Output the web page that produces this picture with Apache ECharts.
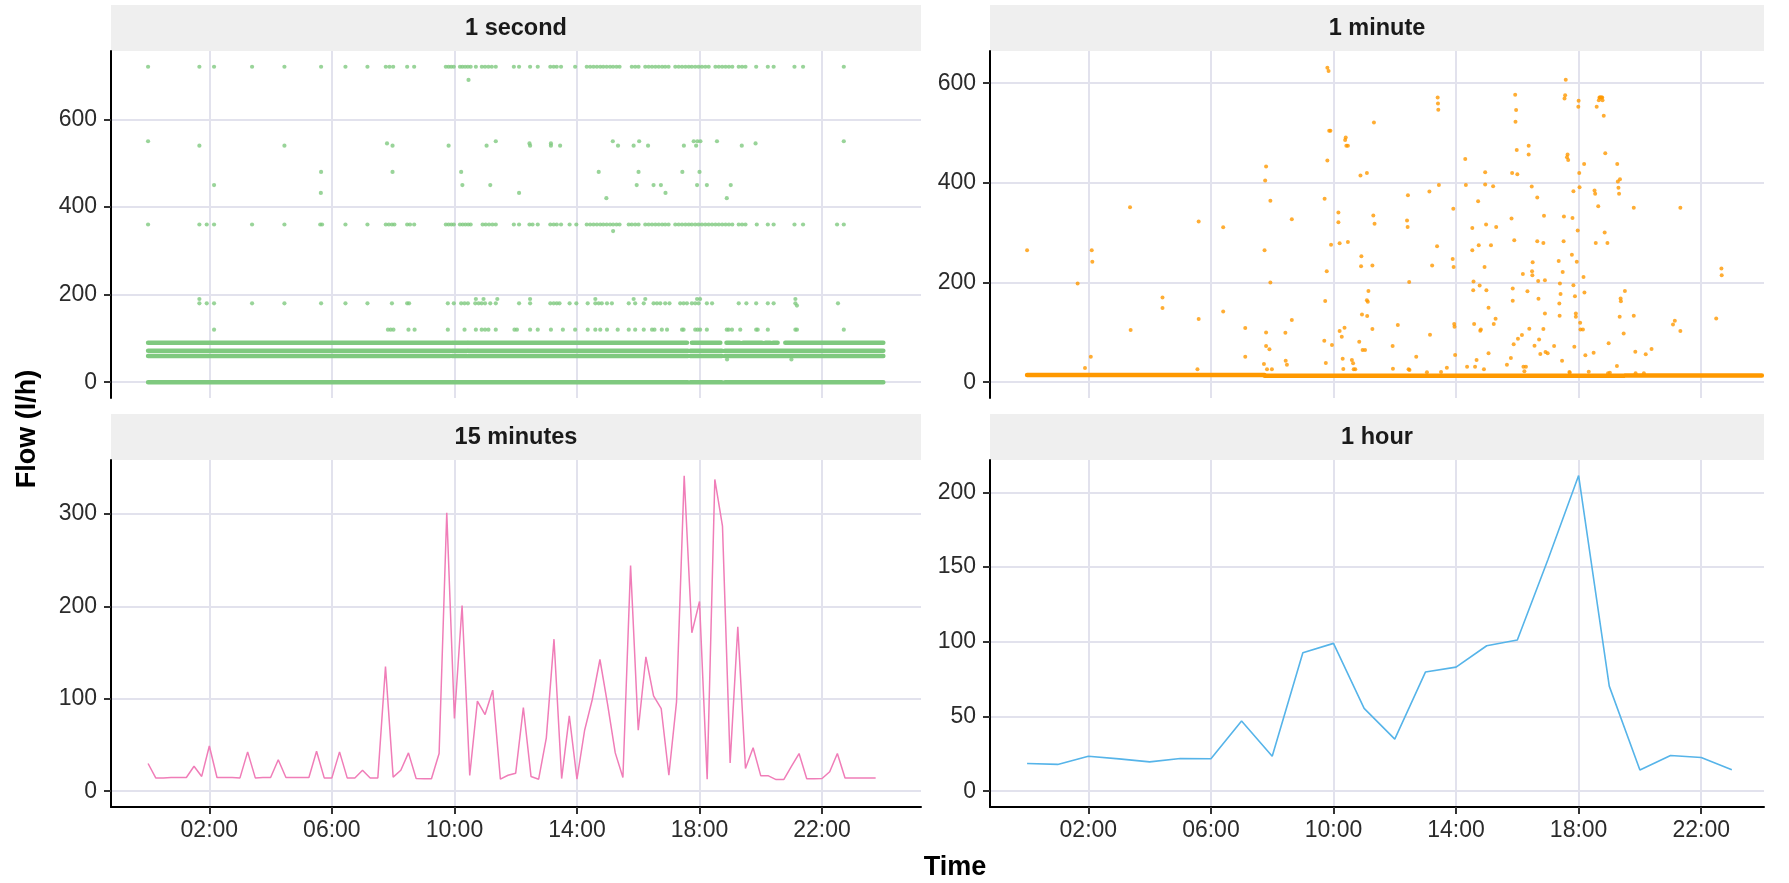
<!DOCTYPE html>
<html><head><meta charset="utf-8">
<script src="https://cdn.jsdelivr.net/npm/echarts@6/dist/echarts.min.js"></script>
<style>html,body{margin:0;padding:0;background:#fff}#c{width:1789px;height:883px}</style>
</head><body><div id="c"></div>
<script>
// ---------- tick labels / categories ----------
const panelTitles = ['1 second', '1 minute', '15 minutes', '1 hour'];
const xTickHours = [2, 6, 10, 14, 18, 22];
const yTicksSec = [0, 200, 400, 600];
const yTicksMin = [0, 200, 400, 600];
const yTicks15 = [0, 100, 200, 300];
const yTicksHour = [0, 50, 100, 150, 200];

// ---------- 1 second : sparse dots (hour of day) per flow level ----------
const sec720 = [0, 1.675, 2.154, 3.395, 4.451, 5.648, 6.443, 7.161, 7.76, 7.88, 8.0, 8.457, 8.686, 9.72, 9.81, 9.894, 9.98, 10.18, 10.26, 10.35, 10.44, 10.53, 10.70, 10.895, 11.0, 11.11, 11.22, 11.35, 11.94, 12.11, 12.47, 12.72, 13.13, 13.24, 13.34, 13.48, 13.94, 14.32, 14.43, 14.54, 14.65, 14.76, 14.86, 14.97, 15.08, 15.18, 15.29, 15.39, 15.79, 15.90, 16.01, 16.23, 16.34, 16.45, 16.56, 16.67, 16.78, 16.88, 16.99, 17.21, 17.32, 17.43, 17.54, 17.65, 17.75, 17.86, 17.97, 18.08, 18.19, 18.30, 18.52, 18.63, 18.74, 18.85, 18.96, 19.07, 19.28, 19.39, 19.50, 19.85, 20.23, 20.42, 21.10, 21.38, 22.71];
const sec690 = [10.46];
const sec550 = [0, 11.35, 15.17, 16.03, 17.81, 17.93, 18.03, 18.57, 22.71];
const sec545 = [7.80, 12.45, 13.15, 19.83];
const sec540 = [1.675, 4.451, 7.98, 9.81, 11.05, 12.47, 13.15, 13.45, 15.34, 15.85, 16.32, 17.49, 17.89, 19.38];
const sec480 = [5.648, 7.98, 10.22, 14.71, 16.01, 17.44, 18.00];
const sec450 = [2.154, 10.26, 11.17, 15.95, 16.50, 16.74, 17.92, 18.24, 19.02];
const sec432 = [5.64, 12.11, 16.89];
const sec420 = [14.96, 18.89];
const sec360 = [0, 1.675, 1.915, 2.154, 3.395, 4.451, 5.62, 5.68, 6.443, 7.161, 7.76, 7.86, 7.96, 8.04, 8.457, 8.55, 8.686, 9.72, 9.81, 9.90, 9.98, 10.18, 10.27, 10.36, 10.45, 10.53, 10.92, 11.02, 11.13, 11.24, 11.35, 11.94, 12.11, 12.45, 12.55, 12.72, 13.13, 13.24, 13.34, 13.48, 13.76, 13.98, 14.32, 14.43, 14.54, 14.65, 14.76, 14.86, 14.97, 15.08, 15.18, 15.29, 15.39, 15.69, 15.79, 15.90, 16.01, 16.23, 16.34, 16.45, 16.56, 16.67, 16.78, 16.88, 16.99, 17.21, 17.32, 17.43, 17.54, 17.65, 17.75, 17.86, 17.97, 18.08, 18.19, 18.30, 18.41, 18.52, 18.63, 18.74, 18.85, 18.96, 19.07, 19.28, 19.39, 19.50, 19.87, 20.23, 20.42, 21.10, 21.38, 22.49, 22.71];
const sec345 = [15.18];
const sec190 = [1.675, 10.70, 10.95, 11.4, 12.47, 14.60, 15.85, 16.23, 17.92, 18.02, 21.13];
const sec180 = [1.675, 1.915, 2.154, 3.395, 4.451, 5.648, 6.443, 7.161, 7.96, 8.457, 8.52, 9.785, 9.98, 10.22, 10.33, 10.44, 10.68, 10.79, 10.89, 11.0, 11.17, 11.35, 12.11, 12.47, 13.13, 13.24, 13.34, 13.43, 13.76, 13.98, 14.35, 14.60, 14.71, 14.81, 14.98, 15.14, 15.69, 15.90, 16.18, 16.50, 16.61, 16.72, 16.88, 17.02, 17.37, 17.48, 17.59, 17.75, 17.86, 17.97, 18.24, 18.41, 19.28, 19.53, 19.85, 20.23, 20.42, 21.13, 22.52];
const sec175 = [21.18];
const sec120 = [2.154, 7.83, 7.92, 8.01, 8.50, 8.70, 9.785, 10.33, 10.70, 10.89, 11.0, 11.11, 11.35, 11.96, 12.04, 12.47, 12.72, 13.15, 13.54, 13.94, 14.35, 14.60, 14.76, 14.98, 15.33, 15.69, 15.90, 16.18, 16.45, 16.53, 16.77, 16.94, 17.43, 17.48, 17.86, 17.94, 18.02, 18.24, 18.89, 18.95, 19.06, 19.33, 19.85, 19.90, 20.23, 21.13, 21.18, 22.71];
const sec52 = [18.9, 21.0];

// ---------- 1 second : continuous bands (start hour, end hour) ----------
const band0 = [[0, 9.86], [9.92, 10.41], [10.46, 17.62], [17.70, 18.73], [18.83, 24.0]];
const band60 = [[0, 9.86], [9.92, 10.41], [10.46, 17.62], [17.70, 18.73], [18.83, 24.0]];
const band72 = [[0, 9.86], [9.92, 10.41], [10.46, 17.62], [17.70, 18.73], [18.83, 24.0]];
const band90 = [[0, 9.86], [9.92, 10.41], [10.46, 17.59], [17.75, 18.68], [18.88, 19.31], [19.42, 20.04], [20.15, 20.31], [20.40, 20.55], [20.80, 24.0]];

// ---------- 1 minute : scattered readings [hour, flow] ----------
const minPoints = [
 [0, 264.7], [1.65, 198], [1.89, 28.7], [2.08, 51.3], [2.11, 264.7], [2.13, 242], [3.36, 351], [3.38, 104.7], [4.42, 170], [4.42, 149],
 [5.56, 26], [5.60, 322.7], [5.60, 127], [6.40, 311], [6.40, 142], [7.12, 108.7], [7.12, 51], [7.73, 36.7], [7.75, 264.7], [7.77, 404.7],
 [7.80, 432.7], [7.80, 100], [7.80, 72.7], [7.83, 26], [7.91, 66], [7.94, 364], [7.94, 200], [7.99, 26], [8.43, 99.3], [8.44, 43],
 [8.48, 35], [8.64, 327], [8.64, 124.7], [9.70, 83.3], [9.71, 368], [9.73, 163], [9.75, 38.7], [9.78, 222.7], [9.80, 444.7], [9.80, 631],
 [9.84, 624.7], [9.86, 504.7], [9.90, 504.7], [9.92, 276], [9.95, 74.7], [10.16, 340.7], [10.16, 321], [10.20, 278.7], [10.20, 102.7], [10.27, 91.3],
 [10.30, 47.3], [10.32, 26.7], [10.36, 109.3], [10.38, 486], [10.40, 491], [10.42, 474.7], [10.47, 474.7], [10.47, 281.3], [10.60, 44.7], [10.64, 38],
 [10.66, 26], [10.71, 26], [10.84, 81.3], [10.88, 414.7], [10.90, 232.7], [10.91, 252.7], [10.93, 136], [10.95, 64.7], [11.03, 64.7], [11.09, 420],
 [11.09, 164.7], [11.10, 132.7], [11.12, 161.3], [11.14, 183.3], [11.27, 106.7], [11.27, 234], [11.30, 334.7], [11.32, 521.3], [11.34, 318],
 [11.93, 72.7], [11.94, 27], [12.10, 114.7], [12.40, 324.7], [12.42, 311.3], [12.43, 375.3], [12.45, 26], [12.48, 24.7], [12.47, 201.3], [12.70, 51.3],
 [13.13, 382.7], [13.15, 95.3], [13.22, 234], [13.38, 272.7], [13.40, 571.3], [13.41, 559.3], [13.42, 546.7], [13.44, 396], [13.51, 20.7], [13.70, 29.3],
 [13.89, 247.3], [13.91, 348], [13.92, 231.3], [13.94, 116.7], [13.95, 111.3], [13.97, 54.7], [14.30, 448], [14.32, 396], [14.36, 31.3], [14.53, 309.3],
 [14.53, 264.7], [14.57, 202], [14.56, 184.7], [14.59, 116.7], [14.62, 31.3], [14.67, 44.7], [14.72, 363.3], [14.74, 274.7], [14.77, 194], [14.79, 103.3],
 [14.81, 106], [14.91, 26], [14.93, 231.3], [14.95, 421.3], [14.95, 396.7], [14.98, 316.7], [14.99, 184.7], [15.06, 149.3], [15.06, 58], [15.14, 274.7],
 [15.21, 393.3], [15.23, 116.7], [15.29, 127.3], [15.31, 311.3], [15.66, 35.3], [15.79, 48.7], [15.81, 328.7], [15.83, 420], [15.85, 163.3], [15.85, 188],
 [15.88, 76], [15.90, 284.7], [15.93, 576.7], [15.96, 546], [15.94, 522.7], [15.98, 466], [16.00, 417.3], [16.02, 87.3], [16.15, 94.7], [16.18, 217.3],
 [16.20, 31.3], [16.28, 31.3], [16.33, 182.7], [16.37, 456.7], [16.37, 474.7], [16.39, 107.3], [16.47, 392.7], [16.49, 214.7], [16.48, 222.7], [16.50, 240.7],
 [16.56, 73.3], [16.65, 370.7], [16.65, 282.7], [16.68, 203.3], [16.69, 167.3], [16.71, 86], [16.75, 56.7], [16.85, 279.3], [16.85, 106.7], [16.87, 334],
 [16.90, 204.7], [16.90, 138], [16.92, 60.7], [16.99, 58], [17.20, 72.7], [17.35, 243.3], [17.37, 158], [17.38, 133.3], [17.39, 198], [17.41, 177.3],
 [17.46, 43.3], [17.48, 221.3], [17.51, 282.7], [17.52, 332.7], [17.54, 569.3], [17.56, 576], [17.58, 606.7], [17.62, 451.3], [17.64, 456.7], [17.66, 446],
 [17.70, 20.7], [17.78, 256], [17.80, 329.3], [17.83, 383.3], [17.83, 194.7], [17.86, 71.3], [17.88, 172.7], [17.91, 138], [17.91, 131.3], [17.94, 242],
 [17.97, 304.7], [17.99, 552.7], [18.00, 564.7], [18.02, 420], [18.03, 391.3], [18.05, 119.3], [18.06, 106], [18.14, 106], [18.16, 211.3], [18.18, 438],
 [18.19, 180], [18.22, 54], [18.33, 21.3], [18.49, 59.3], [18.52, 384.7], [18.54, 378], [18.56, 279.3], [18.59, 552.7], [18.64, 353.3], [18.66, 566],
 [18.68, 571.3], [18.70, 571.3], [18.72, 571.3], [18.75, 571.3], [18.77, 571.3], [18.78, 566], [18.82, 534.7], [18.85, 300.7], [18.87, 459.3], [18.94, 279.3],
 [18.98, 78], [19.25, 32.7], [19.26, 438], [19.28, 402.7], [19.30, 390], [19.32, 378], [19.35, 407.3], [19.37, 168], [19.38, 162.7], [19.34, 131.3],
 [19.51, 183.3], [19.47, 98], [19.80, 350], [19.80, 133.3], [19.85, 61.3], [20.19, 56], [20.38, 66.7], [21.08, 116], [21.14, 123.3], [21.32, 350],
 [21.32, 102.7], [22.49, 128], [22.66, 228], [22.67, 214.7],
 [13.05, 20], [16.23, 22], [17.71, 19], [18.96, 18], [19.02, 19], [19.86, 18], [20.13, 18]
];
// ---------- 1 minute : dense base band [start hour, end hour, flow] ----------
const minBase = [[0, 7.75, 14.7], [7.75, 19.5, 12.8], [19.5, 23.98, 13.6]];

// ---------- 15 minutes : values from 00:00, every quarter hour ----------
const q15 = [30, 14.4, 14.4, 14.8, 14.8, 14.8, 27, 16, 49, 14.8,
 14.8, 14.8, 14.4, 42.6, 14.4, 14.8, 14.8, 34, 14.8, 14.8,
 14.8, 14.8, 43.3, 14.4, 14.4, 42.6, 14.4, 14.4, 22.7, 14.4,
 14.4, 135, 15.2, 22.7, 41.5, 13.7, 13.4, 13.4, 40.8, 301.4,
 78.7, 201, 17, 97.5, 83, 109.4, 13, 17.3, 19.5, 90.6,
 16, 13, 57.8, 164.6, 13.7, 81.6, 13, 66, 99.3, 142.6,
 93.9, 41.5, 14.8, 244.4, 66, 145.5, 103.2, 89.5, 17.3, 96.8,
 341.5, 171.5, 205.4, 13, 337.5, 287, 30.7, 178, 24.5, 47,
 16.6, 16.6, 12.6, 12.6, 27, 40.8, 13.4, 13.4, 13.7, 21,
 40.8, 14.4, 14.4, 14.4, 14.4, 14.4];

// ---------- 1 hour : values from 00:00, hourly ----------
const hourly = [18.5, 17.9, 23.4, 21.6, 19.6, 21.9, 21.7, 46.9, 23.4, 92.6,
 98.9, 55.4, 34.8, 79.7, 83.0, 97.3, 101.1, 155, 211.2, 70.3,
 14.1, 23.9, 22.5, 14.3];

// ---------- styling ----------
const FONT = '"Liberation Sans", Arial, Helvetica, sans-serif';
const GRID_COL = '#E2E2ED';
const TXT = '#2b2b2b';
const C_GREEN = '#7FC97F', C_ORANGE = '#FF9900', C_PINK = '#F07DB8', C_BLUE = '#56B4E9';

const grids = [
  {left: 111, top: 51, width: 810, height: 347},
  {left: 990, top: 51, width: 774, height: 347},
  {left: 111, top: 460, width: 810, height: 347},
  {left: 990, top: 460, width: 774, height: 347}
];
const xRanges = [[-1.21, 25.23], [-1.21, 24.05], [-1.21, 25.23], [-1.21, 24.05]];
const yRanges = [[-36, 756], [-31.6, 664.6], [-17.1, 358.6], [-10.6, 221.6]];
const yTickSets = [yTicksSec, yTicksMin, yTicks15, yTicksHour];

function pad(h) { return (h < 10 ? '0' : '') + h + ':00'; }

const xAxes = grids.map((g, i) => {
  const bottom = i >= 2;
  return {
    type: 'value', gridIndex: i, min: xRanges[i][0], max: xRanges[i][1],
    axisLine: {show: bottom, onZero: false, lineStyle: {color: '#000', width: 2}},
    axisTick: {show: bottom, customValues: xTickHours, length: 7, lineStyle: {color: '#333', width: 2}},
    axisLabel: {show: bottom, customValues: xTickHours, formatter: v => pad(v), fontSize: 23, color: TXT, margin: 12, fontFamily: FONT},
    splitLine: {show: true, lineStyle: {color: GRID_COL, width: 2}}
  };
});
const yAxes = grids.map((g, i) => ({
  type: 'value', gridIndex: i, min: yRanges[i][0], max: yRanges[i][1],
  axisLine: {show: true, onZero: false, lineStyle: {color: '#000', width: 2}},
  axisTick: {show: true, customValues: yTickSets[i], length: 7, lineStyle: {color: '#333', width: 2}},
  axisLabel: {show: true, customValues: yTickSets[i], fontSize: 23, color: TXT, margin: 14, fontFamily: FONT},
  splitLine: {show: true, lineStyle: {color: GRID_COL, width: 2}}
}));

function rowPts(arr, v) { return arr.map(h => [h, v]); }
const secDots = [].concat(
  rowPts(sec720, 720), rowPts(sec690, 690), rowPts(sec550, 550), rowPts(sec545, 545),
  rowPts(sec540, 540), rowPts(sec480, 480), rowPts(sec450, 450), rowPts(sec432, 432),
  rowPts(sec420, 420), rowPts(sec360, 360), rowPts(sec345, 345), rowPts(sec190, 190),
  rowPts(sec180, 180), rowPts(sec175, 175), rowPts(sec120, 120), rowPts(sec52, 52)
);
function bandData(segs, v) {
  const out = [];
  segs.forEach(s => { out.push([s[0], v], [s[1], v], [s[1], '-']); });
  return out;
}
function baseData(segs) {
  const out = [];
  segs.forEach(s => { out.push([s[0], s[2]], [s[1], s[2]], [s[1], '-']); });
  return out;
}
function bandSeries(data, color, width, gi) {
  return {type: 'line', xAxisIndex: gi, yAxisIndex: gi, data: data, showSymbol: false, symbol: 'none',
    connectNulls: false, silent: true, animation: false,
    lineStyle: {color: color, width: width, cap: 'round'}};
}

const series = [
  bandSeries(bandData(band0, 0), C_GREEN, 4.5, 0),
  bandSeries(bandData(band60, 60), C_GREEN, 4.5, 0),
  bandSeries(bandData(band72, 72), C_GREEN, 4.5, 0),
  bandSeries(bandData(band90, 90), C_GREEN, 4.5, 0),
  {type: 'scatter', xAxisIndex: 0, yAxisIndex: 0, data: secDots, symbolSize: 4.2, animation: false,
    itemStyle: {color: C_GREEN}},
  bandSeries(baseData(minBase), C_ORANGE, 4.5, 1),
  {type: 'scatter', xAxisIndex: 1, yAxisIndex: 1, data: minPoints, symbolSize: 4, animation: false,
    itemStyle: {color: C_ORANGE}},
  {type: 'line', xAxisIndex: 2, yAxisIndex: 2, data: q15.map((v, i) => [i / 4, v]), showSymbol: false, symbol: 'none',
    animation: false, lineStyle: {color: C_PINK, width: 1.5}},
  {type: 'line', xAxisIndex: 3, yAxisIndex: 3, data: hourly.map((v, i) => [i, v]), showSymbol: false, symbol: 'none',
    animation: false, lineStyle: {color: C_BLUE, width: 1.6}}
];

const graphic = [];
grids.forEach((g, i) => {
  const top = i < 2 ? 5 : 414;
  const h = g.top - top;
  graphic.push({type: 'rect', left: g.left, top: top, shape: {width: g.width, height: h}, style: {fill: '#EFEFEF'}, silent: true});
  graphic.push({type: 'text', x: g.left + g.width / 2, y: top + h / 2 + 1,
    style: {text: panelTitles[i], font: 'bold 23.5px ' + FONT, fill: '#1a1a1a', textAlign: 'center', textVerticalAlign: 'middle'}});
});
graphic.push({type: 'text', x: 955, y: 868,
  style: {text: 'Time', font: 'bold 27px ' + FONT, fill: '#000', textAlign: 'center', textVerticalAlign: 'middle'}});
graphic.push({type: 'text', x: 28, y: 429, rotation: Math.PI / 2,
  style: {text: 'Flow (l/h)', font: 'bold 27px ' + FONT, fill: '#000', textAlign: 'center', textVerticalAlign: 'middle'}});

const chart = echarts.init(document.getElementById('c'), null, {renderer: 'canvas'});
chart.setOption({
  backgroundColor: '#ffffff',
  animation: false,
  grid: grids.map(g => Object.assign({containLabel: false, outerBoundsMode: 'none'}, g)),
  xAxis: xAxes,
  yAxis: yAxes,
  series: series,
  graphic: graphic
});
</script></body></html>
